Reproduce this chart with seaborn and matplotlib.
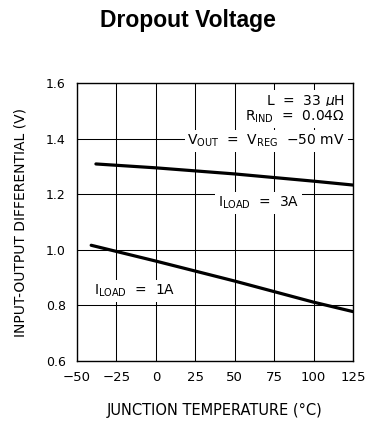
import matplotlib
matplotlib.use("Agg")
import matplotlib.pyplot as plt
import seaborn as sns
import pandas as pd

# Dropout voltage vs junction temperature for two load currents
temp_3a = [-38, 0, 50, 100, 125]
vdiff_3a = [1.310, 1.296, 1.274, 1.248, 1.234]
temp_1a = [-41, 0, 50, 100, 125]
vdiff_1a = [1.017, 0.960, 0.888, 0.812, 0.778]

x_ticks = [-50, -25, 0, 25, 50, 75, 100, 125]
y_ticks = [0.6, 0.8, 1.0, 1.2, 1.4, 1.6]

df = pd.concat([
    pd.DataFrame({"temp": temp_3a, "vdiff": vdiff_3a, "load": "3A"}),
    pd.DataFrame({"temp": temp_1a, "vdiff": vdiff_1a, "load": "1A"}),
])

sns.set_theme(style="white")
plt.rcParams["font.family"] = ["DejaVu Sans"]
plt.rcParams["mathtext.fontset"] = "dejavusans"
plt.rcParams["text.color"] = "black"
plt.rcParams["axes.labelcolor"] = "black"

fig = plt.figure(figsize=(3.75, 4.25), dpi=100)
ax = fig.add_axes([0.2053, 0.1506, 0.736, 0.653])

ax.set_xlim(-50, 125)
ax.set_ylim(0.6, 1.6)
ax.set_xticks(x_ticks)
ax.set_yticks(y_ticks)
ax.set_yticklabels([f"{v:.1f}" for v in y_ticks])
ax.grid(True, color="black", linewidth=0.75, zorder=1)
ax.set_axisbelow(True)
for s in ax.spines.values():
    s.set_color("black")
    s.set_linewidth(1.0)
ax.tick_params(axis="y", length=0, labelsize=9, colors="black", pad=8)
ax.tick_params(axis="x", length=0, labelsize=9.5, colors="black", pad=7)

sns.lineplot(data=df, x="temp", y="vdiff", hue="load", estimator=None,
             palette={"3A": "black", "1A": "black"}, linewidth=2.3,
             legend=False, ax=ax, zorder=3)

box = dict(facecolor="white", edgecolor="none", pad=2.0)
fs = 10
ax.text(120, 1.522, r"L  =  33 $\mu$H", ha="right", va="baseline", fontsize=fs, bbox=box, zorder=2)
ax.text(120, 1.466, r"R$_{\mathrm{IND}}$  =  0.04$\Omega$", ha="right", va="baseline", fontsize=fs, bbox=box, zorder=2)
ax.text(120, 1.378, r"V$_{\mathrm{OUT}}$  =  V$_{\mathrm{REG}}$  $-$50 mV", ha="right", va="baseline", fontsize=fs, bbox=box, zorder=2)
ax.text(39.5, 1.156, r"I$_{\mathrm{LOAD}}$  =  3A", ha="left", va="baseline", fontsize=fs, bbox=box, zorder=2)
ax.text(-39, 0.838, r"I$_{\mathrm{LOAD}}$  =  1A", ha="left", va="baseline", fontsize=fs, bbox=box, zorder=2)

ax.set_xlabel("JUNCTION TEMPERATURE (°C)", fontsize=10.5, labelpad=14)
ax.set_ylabel("INPUT-OUTPUT DIFFERENTIAL (V)", fontsize=10, labelpad=13)

fig.text(0.5, 1 - 20 / 425, "Dropout Voltage", ha="center", va="center",
         fontsize=16.5, fontweight="bold", family="Liberation Sans", color="black")

fig.savefig("out.png", dpi=100, facecolor="white")
